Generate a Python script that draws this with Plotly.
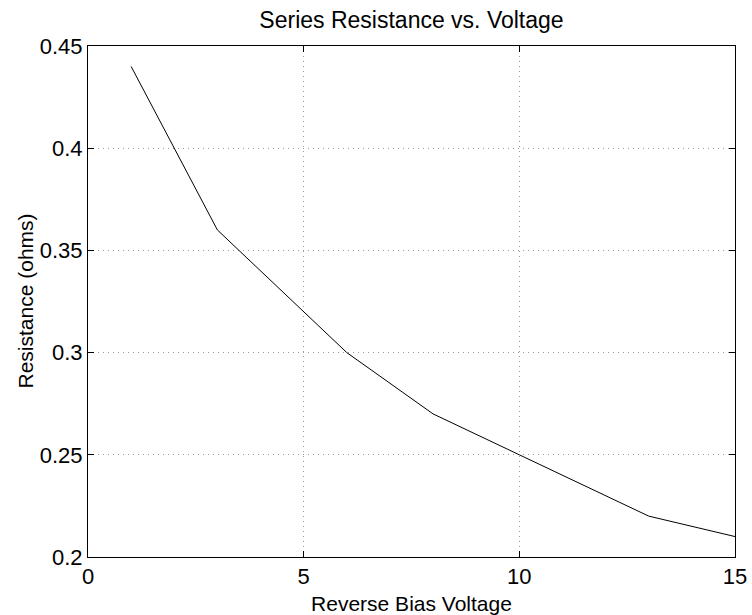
import plotly.graph_objects as go

voltage = [1, 3, 6, 8, 10, 13, 15]
resistance = [0.44, 0.36, 0.30, 0.27, 0.25, 0.22, 0.21]
x_ticks = [0, 5, 10, 15]
y_ticks = [0.2, 0.25, 0.3, 0.35, 0.4, 0.45]
y_labels = ["0.2", "0.25", "0.3", "0.35", "0.4", "0.45"]

fig = go.Figure()
fig.add_trace(go.Scatter(x=voltage, y=resistance, mode="lines",
                         line=dict(color="black", width=1), showlegend=False))

axis_common = dict(showline=True, linecolor="black", linewidth=1, mirror="ticks",
                   ticks="inside", ticklen=6, tickcolor="black", tickwidth=1,
                   showgrid=True, gridcolor="#9a9a9a", griddash="1px,4px", gridwidth=1,
                   zeroline=False, automargin=False, tickfont=dict(size=22, color="black"))

fig.update_xaxes(range=[0, 15], tickvals=x_ticks, ticktext=[str(v) for v in x_ticks],
                 title=dict(text="Reverse Bias Voltage", font=dict(size=21, color="black")),
                 **axis_common)
fig.update_yaxes(range=[0.2, 0.45], tickvals=y_ticks, ticktext=y_labels, **axis_common)

fig.add_annotation(text="Resistance (ohms)", textangle=-90, showarrow=False,
                   xref="paper", yref="paper", x=(25 - 88) / (735 - 88), y=0.5,
                   xanchor="center", yanchor="middle",
                   font=dict(size=21, color="black"))

fig.update_layout(
    width=752, height=615,
    margin=dict(l=88, r=17, t=46, b=58),
    paper_bgcolor="white", plot_bgcolor="white",
    font=dict(family="Liberation Sans, Arial, sans-serif", color="black"),
    title=dict(text="Series Resistance vs. Voltage", x=(88 + 735) / 2 / 752, xanchor="center",
               y=1 - 20/615, yanchor="middle", font=dict(size=23, color="black")),
)

fig.write_html("out.html")
